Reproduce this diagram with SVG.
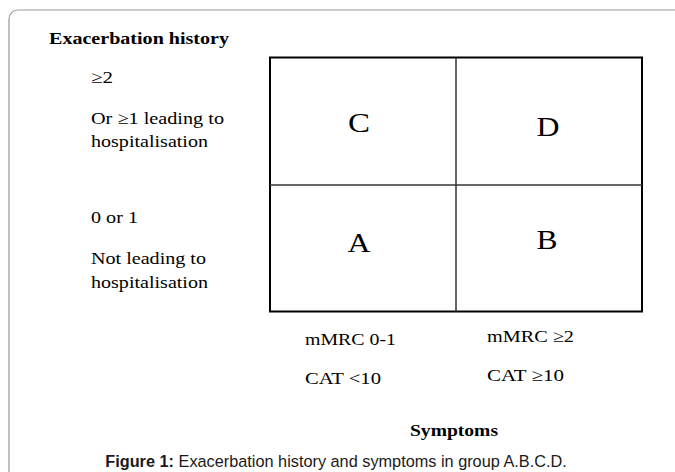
<svg xmlns="http://www.w3.org/2000/svg" width="675" height="472" viewBox="0 0 675 472">
  <style>
    .serif { font-family: "Liberation Serif", "Times New Roman", serif; fill: #000; }
    .body { font-size: 17px; }
    .bold { font-weight: bold; font-size: 17.5px; }
    .cell { font-size: 28px; text-anchor: middle; }
    .caption { font-family: "Liberation Sans", Arial, sans-serif; font-size: 16.3px; fill: #1a1a1a; text-anchor: middle; }
    .grid-outer { fill: #fff; stroke: #000; stroke-width: 2; }
    .grid-inner { stroke: #333; stroke-width: 1.5; }
  </style>
  <rect width="675" height="472" fill="#fff"/>
  <!-- card frame -->
  <rect x="9" y="10" width="720" height="520" rx="9" fill="none" stroke="#9a9a9a" stroke-width="1.2"/>

  <!-- row axis -->
  <g id="row-axis">
    <text class="serif bold" x="49" y="44" textLength="180" lengthAdjust="spacingAndGlyphs">Exacerbation history</text>
    <text class="serif body" x="91" y="83" textLength="22" lengthAdjust="spacingAndGlyphs">≥2</text>
    <text class="serif body" x="91" y="124" textLength="133" lengthAdjust="spacingAndGlyphs">Or ≥1 leading to</text>
    <text class="serif body" x="91" y="147" textLength="117" lengthAdjust="spacingAndGlyphs">hospitalisation</text>
    <text class="serif body" x="91" y="223" textLength="47" lengthAdjust="spacingAndGlyphs">0 or 1</text>
    <text class="serif body" x="91" y="264" textLength="115" lengthAdjust="spacingAndGlyphs">Not leading to</text>
    <text class="serif body" x="91" y="288" textLength="117" lengthAdjust="spacingAndGlyphs">hospitalisation</text>
  </g>

  <!-- group grid -->
  <g id="grid">
    <rect class="grid-outer" x="270" y="57.5" width="372" height="254"/>
    <line class="grid-inner" x1="456" y1="57.5" x2="456" y2="311.5"/>
    <line class="grid-inner" x1="270" y1="185" x2="642" y2="185"/>
  </g>
  <g id="group-C"><text class="serif cell" x="359" y="132" textLength="22" lengthAdjust="spacingAndGlyphs">C</text></g>
  <g id="group-D"><text class="serif cell" x="548" y="136" textLength="23" lengthAdjust="spacingAndGlyphs">D</text></g>
  <g id="group-A"><text class="serif cell" x="359" y="252" textLength="23" lengthAdjust="spacingAndGlyphs">A</text></g>
  <g id="group-B"><text class="serif cell" x="547" y="249" textLength="21" lengthAdjust="spacingAndGlyphs">B</text></g>

  <!-- column axis -->
  <g id="column-axis">
    <text class="serif body" x="305" y="345" textLength="91" lengthAdjust="spacingAndGlyphs">mMRC 0-1</text>
    <text class="serif body" x="305" y="384" textLength="76" lengthAdjust="spacingAndGlyphs">CAT &lt;10</text>
    <text class="serif body" x="487" y="342" textLength="87" lengthAdjust="spacingAndGlyphs">mMRC ≥2</text>
    <text class="serif body" x="487" y="381" textLength="77" lengthAdjust="spacingAndGlyphs">CAT ≥10</text>
    <text class="serif bold" x="410" y="436" textLength="88" lengthAdjust="spacingAndGlyphs">Symptoms</text>
  </g>

  <!-- caption -->
  <text class="caption" x="336" y="467"><tspan font-weight="bold">Figure 1:</tspan> Exacerbation history and symptoms in group A.B.C.D.</text>
</svg>
